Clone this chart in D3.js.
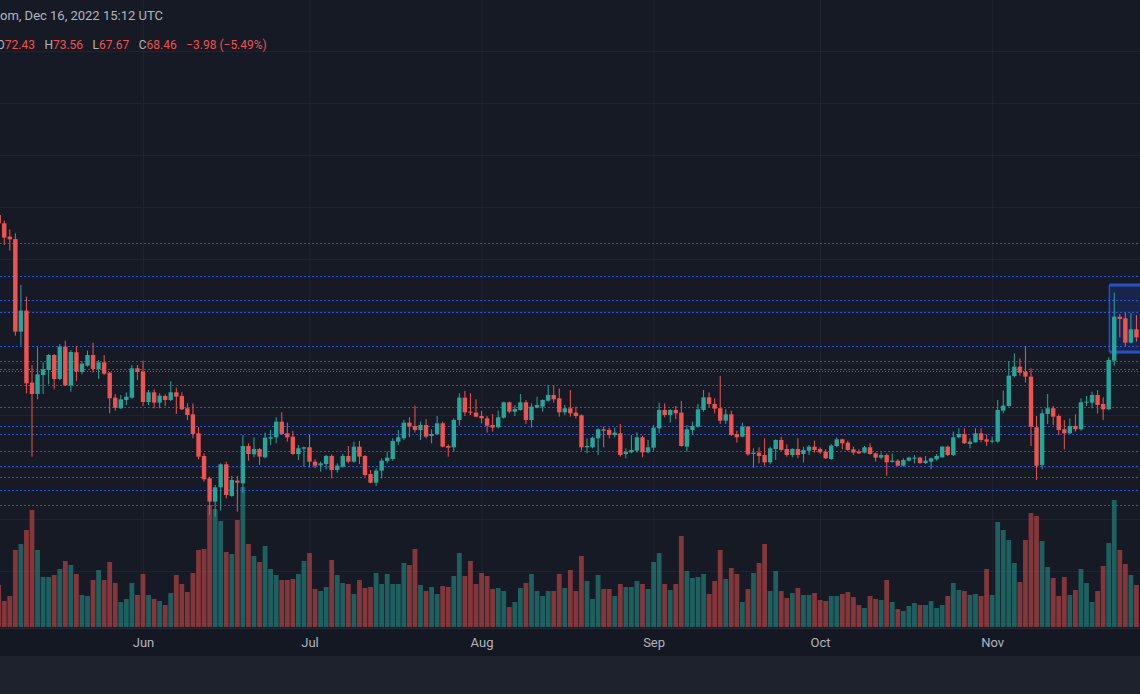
<!DOCTYPE html>
<html>
<head>
<meta charset="utf-8">
<title>Candles</title>
<script src="https://d3js.org/d3.v7.min.js"></script>
<style>
  html, body { margin: 0; padding: 0; background: #161a25; overflow: hidden; }
  svg { display: block; }
  .grid line { stroke: #1f2330; }
  .grid path { display: none; }
  .taxis text { fill: #b2b5be; font-family: Roboto, sans-serif; font-size: 13px; }
  .taxis path, .taxis line { display: none; }
  .title { font-family: Roboto, sans-serif; font-size: 13px; }
  .legend { font-family: Roboto, sans-serif; font-size: 12px; }
</style>
</head>
<body>
<div id="chart"></div>
<script>
// daily candles, May 6 .. Nov 27 2022
var days = d3.utcDay.range(new Date(Date.UTC(2022, 4, 6)), new Date(Date.UTC(2022, 10, 28)));

var opens = [98.47,96.86,94.30,93.85,76.03,80.07,66.22,64.04,67.70,68.66,
71.54,66.93,73.14,65.71,72.06,68.27,69.49,71.54,68.85,70.13,
68.14,63.34,61.29,62.89,63.34,68.98,68.34,62.50,64.36,62.38,
63.66,62.89,64.36,63.66,61.29,60.13,56.48,52.12,47.82,43.34,
46.09,50.52,44.43,47.38,46.86,54.04,52.44,53.47,51.86,55.45,
55.71,58.72,56.48,55.84,52.50,53.53,53.79,51.03,50.32,50.58,
52.12,49.43,50.07,52.12,51.03,53.91,52.12,48.66,46.99,49.30,
51.16,51.54,54.88,55.52,58.53,57.89,57.12,58.08,55.97,56.29,
58.40,54.04,53.79,59.04,63.34,60.64,60.45,59.81,59.36,58.08,
57.63,59.49,62.44,60.64,60.97,62.44,59.04,61.41,61.61,62.76,
63.85,63.21,60.52,61.29,60.45,59.94,53.79,53.79,55.52,57.25,
57.12,56.16,56.48,52.50,52.82,53.14,55.71,52.82,53.72,57.44,
60.97,60.00,60.97,60.45,53.91,57.12,57.76,60.97,63.40,62.12,
61.29,58.91,60.13,56.35,55.84,57.76,52.50,52.76,52.31,50.90,
53.47,55.20,53.47,52.31,53.47,52.50,53.14,53.91,53.47,52.95,
51.54,54.04,55.32,54.68,53.40,52.95,52.76,53.79,52.63,51.80,
52.31,50.97,51.22,50.26,51.22,51.61,51.80,50.77,51.03,51.48,
51.86,53.91,52.31,55.71,56.35,54.43,54.75,56.48,55.32,54.94,
54.88,60.84,61.73,67.50,69.30,68.34,67.38,57.63,50.39,60.20,
61.29,59.81,57.25,56.48,57.89,57.25,62.38,62.38,63.85,62.12,
61.09,70.45,78.91,78.59,73.91,76.48];

var highs = [98.91,97.38,95.71,94.94,85.00,82.76,69.62,73.02,70.13,71.73,
71.73,73.66,74.30,72.50,73.27,70.39,72.38,73.91,70.58,71.54,
68.27,64.04,63.85,64.36,69.62,69.62,70.45,64.81,64.94,64.17,
63.98,66.48,65.26,64.36,62.25,62.25,57.63,52.63,48.14,46.54,
50.71,51.03,48.27,48.27,56.16,54.56,55.71,53.59,56.61,57.12,
59.56,60.52,58.53,56.93,54.23,53.91,56.16,51.48,51.03,52.31,
52.44,50.71,52.50,54.04,54.88,55.00,52.31,49.43,49.75,51.67,
52.95,55.52,57.12,59.04,59.56,61.80,58.72,59.23,57.25,59.81,
58.72,54.36,59.36,64.17,64.62,64.17,63.02,60.77,59.81,60.20,
60.84,62.57,62.57,61.93,64.04,62.89,62.25,63.53,63.02,65.77,
65.77,65.13,61.93,64.81,61.61,60.13,55.52,55.84,57.44,57.76,
57.57,57.57,58.27,53.59,56.16,56.67,55.97,55.20,58.08,62.38,
62.25,61.09,61.73,62.70,58.08,58.72,62.12,64.81,64.36,63.21,
67.50,61.09,60.84,56.99,58.53,57.89,53.59,53.79,55.52,53.91,
55.32,55.84,54.36,53.59,55.52,53.91,54.23,55.07,53.79,53.40,
54.43,55.71,55.45,55.07,53.91,53.40,54.04,54.56,52.76,52.82,
52.63,52.63,51.48,51.67,51.99,52.31,51.99,52.12,51.80,52.50,
54.04,54.10,56.80,57.44,57.44,55.52,57.44,57.44,56.29,55.84,
62.89,64.68,70.39,71.86,70.90,73.27,68.98,59.81,61.09,64.04,
61.73,60.13,59.04,59.36,60.13,63.21,63.66,64.49,64.81,63.40,
71.09,83.53,79.43,79.68,79.56,79.23];

var lows = [93.02,92.70,91.61,75.26,73.34,64.17,51.99,63.02,64.04,65.90,
64.94,66.73,65.58,64.49,66.54,67.82,69.30,68.14,66.93,67.70,
60.32,60.84,61.16,61.93,63.14,66.73,61.73,61.93,61.29,61.29,
61.73,62.70,60.20,60.97,59.04,55.52,51.48,47.18,40.77,40.45,
41.61,43.98,44.30,41.41,44.94,51.22,51.86,50.39,51.67,54.23,
54.56,56.16,54.88,52.31,51.35,50.07,49.88,49.75,49.11,49.56,
47.82,48.91,49.88,50.71,50.84,50.58,48.14,46.86,46.35,47.82,
50.71,51.22,54.23,55.20,55.71,56.61,55.20,55.52,54.56,56.16,
53.79,51.99,52.95,57.95,59.81,60.00,59.56,58.40,56.61,56.80,
57.44,59.30,60.32,59.81,60.84,58.27,57.57,61.29,60.64,62.57,
62.38,59.68,60.00,59.68,59.36,53.14,52.63,53.59,52.31,53.79,
55.52,55.71,51.99,51.67,52.63,52.76,51.86,52.63,53.14,56.48,
59.56,58.53,59.23,53.91,52.95,56.16,57.63,60.64,61.48,60.32,
58.27,58.27,55.97,54.68,55.71,52.18,49.88,50.71,50.26,50.52,
51.35,53.14,51.99,51.86,51.67,50.90,52.31,52.76,52.50,51.54,
51.35,53.79,53.40,53.14,52.31,52.50,52.63,52.38,51.03,51.48,
48.34,50.84,50.20,50.07,51.03,50.71,50.58,50.58,49.56,51.22,
51.80,52.12,52.12,55.52,54.43,53.59,54.68,54.75,54.04,54.56,
54.68,60.32,61.61,67.25,67.57,66.22,54.04,47.50,49.56,58.27,
58.08,56.16,53.40,56.35,56.80,56.99,61.73,61.29,60.32,59.04,
60.97,69.49,74.94,73.27,73.79,74.11];

var closes = [96.86,94.11,93.79,76.03,80.07,66.09,64.04,67.82,68.79,71.54,
66.93,73.14,65.71,72.12,68.34,69.88,71.54,68.85,70.13,67.95,
63.21,61.41,63.02,63.53,68.98,68.27,62.50,64.36,62.38,63.72,
62.89,64.36,63.53,61.09,60.00,56.35,51.99,47.63,43.34,46.09,
50.52,44.62,47.50,46.99,54.04,52.50,53.47,51.99,55.64,55.71,
58.72,56.35,55.71,52.50,53.59,53.79,51.03,50.26,50.71,52.12,
49.43,50.26,52.12,51.03,53.91,51.99,48.47,46.99,49.30,51.22,
51.80,55.00,55.71,58.53,57.76,57.12,58.08,55.84,56.35,58.40,
53.91,53.72,59.04,63.34,60.52,60.45,59.68,59.36,57.95,57.57,
59.56,62.44,60.64,61.16,62.44,59.04,61.61,61.93,62.89,63.85,
63.02,60.52,61.29,60.32,59.81,53.79,54.04,55.64,57.25,56.99,
56.16,56.61,52.31,52.95,53.27,55.71,52.82,53.79,57.57,60.97,
60.00,60.97,60.32,54.04,57.25,57.89,61.09,63.40,62.12,61.22,
58.91,60.13,56.16,55.71,57.76,52.44,52.76,52.12,50.90,53.59,
55.20,53.27,52.31,53.47,52.31,53.27,53.91,53.27,52.82,51.67,
54.11,55.32,54.56,53.27,52.76,52.63,53.79,52.50,51.80,52.31,
50.90,51.22,50.26,51.35,51.80,51.80,50.77,51.22,51.67,52.12,
53.91,52.31,55.71,56.35,54.56,54.88,56.48,55.20,54.88,55.07,
60.97,61.80,67.57,69.30,68.14,67.38,57.76,50.26,60.32,61.29,
59.68,57.12,56.48,57.89,57.25,62.44,62.57,63.85,61.93,61.09,
70.58,78.91,78.47,73.91,76.48,74.94];

var volumes = [42,26,31,77,83,97,117,77,50,50,
52,58,66,62,53,32,31,47,57,47,
65,44,25,28,44,32,53,32,28,26,
22,34,52,43,35,54,77,78,122,118,
106,75,73,107,140,83,71,65,81,58,
52,47,47,48,53,66,74,38,36,40,
67,52,44,43,33,47,39,40,54,43,
53,43,43,64,62,78,42,36,40,33,
41,40,51,74,51,66,43,54,51,38,
39,36,20,25,39,44,53,36,31,36,
36,53,39,57,36,71,46,28,52,38,
38,31,43,40,40,46,43,38,65,74,
43,37,43,91,56,49,50,53,33,46,
77,48,59,53,25,38,54,64,83,36,
56,36,29,34,39,32,32,34,27,26,
31,31,33,35,30,22,19,31,28,27,
47,25,18,16,21,24,22,22,26,19,
22,31,44,37,36,32,33,31,58,32,
105,97,87,64,45,87,114,111,86,60,
49,31,50,32,37,58,44,25,36,61,
84,127,77,63,52,42];

// horizontal levels drawn on the chart
var levelPrices = [93.0, 86.7, 82.1, 79.75, 73.3, 70.45, 68.9, 65.8, 61.6, 57.9, 56.3, 53.15, 50.25, 48.15, 45.6, 42.7];
var lastPrice = 68.46;
var gridPrices = d3.range(20, 131, 10);

// rectangle drawing on the right
var boxStart = new Date(Date.UTC(2022, 10, 22, 3));
var boxTop = 85.0, boxBottom = 72.1;

var titleText = "om, Dec 16, 2022 15:12 UTC";
var legendLabels = ["O", "H", "L", "C", ""];
var legendValues = ["72.43", "73.56", "67.67", "68.46", "\u22123.98 (\u22125.49%)"];

var W = 1140, H = 694;
var paneBottom = 628, axisBottom = 656;

var svg = d3.select("#chart").append("svg").attr("width", W).attr("height", H);

svg.append("rect").attr("width", W).attr("height", H).attr("fill", "#161a25");
svg.append("rect").attr("y", paneBottom).attr("width", W).attr("height", axisBottom - paneBottom).attr("fill", "#141823");
svg.append("rect").attr("y", axisBottom).attr("width", W).attr("height", H - axisBottom).attr("fill", "#1e222d");
svg.append("line").attr("x1", 0).attr("x2", W).attr("y1", paneBottom + 0.5).attr("y2", paneBottom + 0.5)
   .attr("stroke", "#262a35");

var x = d3.scaleUtc().domain([days[0], days[days.length - 1]]).range([-1.3, 1136.45]);
var y = d3.scaleLinear().domain([20, 130]).range([623, 51]);
var v = d3.scaleLinear().domain([0, 130]).range([627, 497]);

// grid
svg.append("g").attr("class", "grid")
   .call(d3.axisRight(y).tickValues(gridPrices).tickSize(W).tickFormat(""));
svg.append("g").attr("class", "grid")
   .call(d3.axisBottom(x).ticks(d3.utcMonth.every(1)).tickSize(paneBottom).tickFormat(""));

// time axis
var tAxis = svg.append("g").attr("class", "taxis").attr("transform", "translate(0," + (paneBottom + 4) + ")")
   .call(d3.axisBottom(x).ticks(d3.utcMonth.every(1)).tickFormat(d3.utcFormat("%b")).tickSize(0));
tAxis.selectAll("text").attr("dy", "0.95em");

// rectangle
svg.append("rect")
   .attr("x", x(boxStart)).attr("y", y(boxTop))
   .attr("width", W - x(boxStart) + 5).attr("height", y(boxBottom) - y(boxTop))
   .attr("fill", "rgba(41,98,255,0.16)");
svg.append("line").attr("x1", x(boxStart)).attr("x2", W)
   .attr("y1", y(boxTop)).attr("y2", y(boxTop)).attr("stroke", "#2450c8").attr("stroke-width", 3);
svg.append("line").attr("x1", x(boxStart)).attr("x2", W)
   .attr("y1", y(boxBottom)).attr("y2", y(boxBottom)).attr("stroke", "#2450c8").attr("stroke-width", 3);
svg.append("line").attr("x1", x(boxStart)).attr("x2", x(boxStart))
   .attr("y1", y(boxTop)).attr("y2", y(boxBottom)).attr("stroke", "#2450c8").attr("stroke-width", 1.5);

var idx = d3.range(days.length);
function col(i) { return closes[i] >= opens[i] ? "#26a69a" : "#ef5350"; }

// volume
svg.append("g").selectAll("rect").data(idx).join("rect")
   .attr("x", function(i) { return x(days[i]) - 2.4; })
   .attr("width", 4.8)
   .attr("y", function(i) { return v(volumes[i]); })
   .attr("height", function(i) { return v(0) - v(volumes[i]); })
   .attr("fill", col).attr("opacity", 0.5);

// level lines
svg.append("g").selectAll("line").data(levelPrices).join("line")
   .attr("x1", 0).attr("x2", W)
   .attr("y1", function(d) { return Math.round(y(d)) + 0.5; })
   .attr("y2", function(d) { return Math.round(y(d)) + 0.5; })
   .attr("stroke", "#2962ff").attr("stroke-opacity", 0.85).attr("stroke-dasharray", "2,2");

svg.append("line").attr("x1", 0).attr("x2", W)
   .attr("y1", Math.round(y(lastPrice)) + 0.5).attr("y2", Math.round(y(lastPrice)) + 0.5)
   .attr("stroke", "#ef5350").attr("stroke-opacity", 0.8).attr("stroke-dasharray", "1,2");

// candles
var candles = svg.append("g").selectAll("g").data(idx).join("g");
candles.append("rect")
   .attr("x", function(i) { return x(days[i]) - 0.5; })
   .attr("width", 1)
   .attr("y", function(i) { return y(highs[i]); })
   .attr("height", function(i) { return y(lows[i]) - y(highs[i]); })
   .attr("fill", col);
candles.append("rect")
   .attr("x", function(i) { return x(days[i]) - 2.2; })
   .attr("width", 4.4)
   .attr("y", function(i) { return y(Math.max(opens[i], closes[i])); })
   .attr("height", function(i) { return Math.max(1, Math.abs(y(opens[i]) - y(closes[i]))); })
   .attr("fill", col);

// legend
svg.append("text").attr("class", "title").attr("x", 0).attr("y", 19.5)
   .attr("fill", "#b2b5be").text(titleText);

var lx = -3.5;
legendLabels.forEach(function(lab, k) {
  var t = svg.append("text").attr("class", "legend").attr("x", lx).attr("y", 49);
  t.append("tspan").attr("fill", "#b2b5be").text(lab);
  t.append("tspan").attr("fill", "#ef5350").text(legendValues[k]);
  lx += t.node().getComputedTextLength() + 9.5;
});
</script>
</body>
</html>
